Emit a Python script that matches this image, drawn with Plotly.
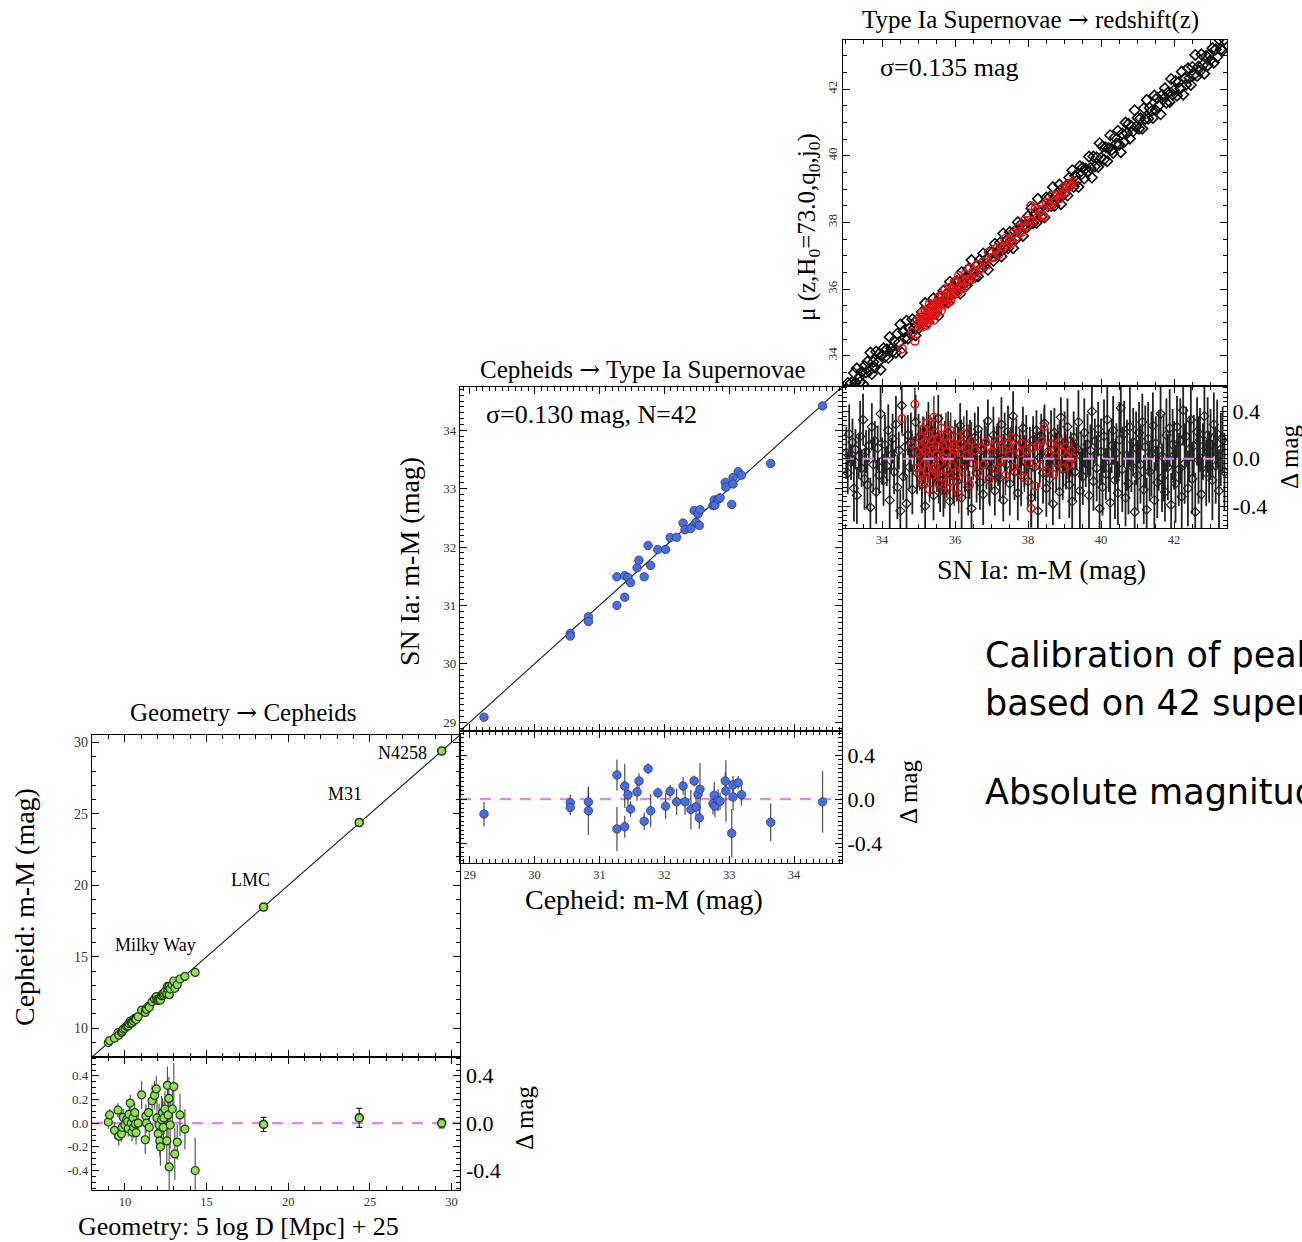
import plotly.graph_objects as go

W, H = 1302, 1242
SERIF = "Liberation Serif"
SANS = "DejaVu Sans"
ARROW = '<span style="font-family:\'DejaVu Serif\'">→</span>'


def px(x):
    return x / W


def py(y):
    return 1 - y / H


# ---------------- Geometry -> Cepheids ----------------
mw_geo = [8.98, 9.06, 9.36, 9.57, 9.62, 9.79, 9.83, 9.89, 10.00, 10.10,
          10.17, 10.20, 10.25, 10.32, 10.38, 10.43, 10.49, 10.53, 10.60, 10.64,
          10.68, 10.81, 11.02, 11.24, 11.28, 11.32, 11.45, 11.49, 11.66, 11.81,
          11.92, 11.96, 12.03, 12.09, 12.13, 12.17, 12.24, 12.30, 12.35, 12.39,
          12.45, 12.56, 12.60, 12.64, 12.69, 12.71, 12.77, 12.90, 12.99, 13.05,
          13.20, 13.37, 13.67, 14.30]
mw_dmag = [0.01, 0.07, -0.06, 0.11, -0.11, -0.09, -0.035, 0.05, -0.015, 0.03,
           0.015, -0.045, 0.075, 0.17, 0.00, -0.075, 0.045, -0.035, 0.09, -0.006,
           -0.08, 0.00, 0.24, -0.14, 0.06, 0.00, 0.09, -0.035, 0.19, 0.235,
           0.29, 0.045, -0.09, -0.015, -0.15, -0.20, 0.03, 0.09, -0.035, 0.045,
           0.12, -0.15, 0.32, 0.07, 0.21, -0.37, -0.015, 0.12, 0.31, -0.26,
           -0.16, 0.07, -0.05, -0.40]
mw_err = [0.06, 0.05, 0.07, 0.06, 0.08, 0.07, 0.06, 0.07, 0.08, 0.06,
          0.09, 0.07, 0.08, 0.07, 0.06, 0.08, 0.07, 0.09, 0.08, 0.06,
          0.10, 0.09, 0.12, 0.12, 0.10, 0.08, 0.11, 0.10, 0.13, 0.12,
          0.11, 0.15, 0.14, 0.18, 0.13, 0.16, 0.20, 0.12, 0.17, 0.14,
          0.15, 0.20, 0.16, 0.22, 0.18, 0.25, 0.20, 0.17, 0.20, 0.22,
          0.15, 0.18, 0.17, 0.28]

host_names = ["LMC", "M31", "N4258"]
host_geo = [18.49, 24.35, 29.40]
host_dmag = [-0.01, 0.045, 0.0]
host_err = [0.06, 0.08, 0.04]

# ---------------- Cepheids -> SN Ia ----------------
ceph_mu = [29.22, 30.55, 30.55, 30.83, 30.83, 31.27, 31.27, 31.39, 31.39, 31.44,
           31.48, 31.58, 31.61, 31.69, 31.75, 31.79, 31.90, 32.02, 32.09, 32.19,
           32.29, 32.32, 32.41, 32.46, 32.49, 32.52, 32.55, 32.54, 32.75, 32.77,
           32.78, 32.83, 32.86, 32.94, 32.95, 33.04, 33.06, 33.06, 33.14, 33.19,
           33.64, 34.44]
sn_dmag = [-0.135, -0.03, -0.075, -0.025, -0.105, 0.22, -0.27, 0.12, -0.25, 0.04,
           -0.09, 0.066, 0.165, -0.20, 0.277, -0.105, 0.057, -0.063, 0.072, -0.024,
           0.12, -0.024, -0.093, 0.166, -0.07, 0.045, 0.09, -0.17, -0.04, 0.036,
           -0.063, -0.01, -0.018, 0.166, 0.075, -0.31, 0.13, 0.02, 0.15, 0.04,
           -0.21, -0.024]
sn_err = [0.11, 0.07, 0.07, 0.13, 0.22, 0.14, 0.20, 0.20, 0.10, 0.10,
          0.07, 0.08, 0.07, 0.08, 0.05, 0.15, 0.05, 0.12, 0.06, 0.12,
          0.08, 0.12, 0.18, 0.05, 0.10, 0.08, 0.24, 0.10, 0.10, 0.12,
          0.10, 0.10, 0.08, 0.08, 0.28, 0.22, 0.08, 0.12, 0.06, 0.10,
          0.17, 0.28]

# ---------------- SN Ia -> redshift (Hubble flow, black) ----------------
hf_mu = [
    33.02, 33.06, 33.10, 33.15, 33.19, 33.23, 33.27, 33.31, 33.36, 33.40, 33.44, 33.48,
    33.52, 33.56, 33.60, 33.64, 33.68, 33.72, 33.76, 33.80, 33.84, 33.88, 33.92, 33.96,
    34.00, 34.04, 34.08, 34.13, 34.17, 34.21, 34.25, 34.29, 34.33, 34.38, 34.42, 34.46,
    34.50, 34.54, 34.58, 34.63, 34.67, 34.71, 34.75, 34.79, 34.83, 34.88, 34.92, 34.96,
    35.00, 35.05, 35.09, 35.14, 35.18, 35.23, 35.27, 35.32, 35.36, 35.41, 35.45,
    35.50, 35.54, 35.59, 35.63, 35.68, 35.72, 35.77, 35.81, 35.86, 35.90, 35.95,
    36.00, 36.05, 36.09, 36.14, 36.18, 36.23, 36.27, 36.32, 36.36, 36.41, 36.45,
    36.50, 36.54, 36.59, 36.63, 36.68, 36.72, 36.77, 36.81, 36.86, 36.90, 36.95,
    37.00, 37.05, 37.09, 37.14, 37.18, 37.23, 37.27, 37.32, 37.36, 37.41, 37.45,
    37.50, 37.54, 37.59, 37.63, 37.68, 37.72, 37.77, 37.81, 37.86, 37.90, 37.95,
    38.00, 38.05, 38.09, 38.14, 38.18, 38.23, 38.27, 38.32, 38.36, 38.41, 38.45,
    38.50, 38.54, 38.59, 38.63, 38.68, 38.72, 38.77, 38.81, 38.86, 38.90, 38.95,
    39.00, 39.04, 39.08, 39.13, 39.17, 39.21, 39.25, 39.29, 39.33, 39.38, 39.42, 39.46,
    39.50, 39.54, 39.58, 39.63, 39.67, 39.71, 39.75, 39.79, 39.83, 39.88, 39.92, 39.96,
    40.00, 40.04, 40.08, 40.13, 40.17, 40.21, 40.25, 40.29, 40.33, 40.38, 40.42, 40.46,
    40.50, 40.54, 40.58, 40.63, 40.67, 40.71, 40.75, 40.79, 40.83, 40.88, 40.92, 40.96,
    41.00, 41.04, 41.08, 41.13, 41.17, 41.21, 41.25, 41.29, 41.33, 41.38, 41.42, 41.46,
    41.50, 41.54, 41.58, 41.63, 41.67, 41.71, 41.75, 41.79, 41.83, 41.88, 41.92, 41.96,
    42.00, 42.04, 42.08, 42.13, 42.17, 42.21, 42.25, 42.29, 42.33, 42.38, 42.42, 42.46,
    42.50, 42.54, 42.58, 42.63, 42.67, 42.71, 42.75, 42.79, 42.83, 42.88, 42.92, 42.96,
    43.00, 43.05, 43.09, 43.14, 43.18, 43.23, 43.28, 43.33, 43.38]
hf_dmag = [
    0.05, -0.12, 0.21, -0.03, 0.14, -0.25, 0.08, -0.31, 0.02, 0.19, -0.08, 0.33,
    -0.17, 0.06, -0.22, 0.11, -0.41, 0.27, -0.05, 0.15, -0.28, 0.09, -0.14, 0.38,
    -0.02, -0.18, 0.12, -0.06, 0.24, -0.35, 0.03, 0.17, -0.11, 0.29, -0.24, 0.07,
    -0.44, 0.45, -0.15, 0.10, -0.38, 0.20, -0.07, 0.14, -0.26, 0.05, 0.31, -0.12,
    0.18, 0.08, -0.22, 0.15, -0.40, 0.03, 0.26, -0.13, 0.10, -0.31, 0.19,
    -0.05, 0.34, -0.18, 0.06, -0.27, 0.13, -0.09, 0.22, -0.36, 0.04, -0.15,
    0.12, -0.19, 0.04, 0.28, -0.33, 0.09, -0.06, 0.21, -0.24, 0.15, -0.42,
    0.02, 0.18, -0.12, 0.25, -0.20, 0.07, -0.30, 0.13, -0.04, 0.32, -0.16,
    -0.08, 0.20, -0.27, 0.11, 0.03, -0.16, 0.29, -0.35, 0.14, -0.05, 0.23,
    -0.21, 0.08, 0.36, -0.11, 0.17, -0.29, 0.05, -0.14, 0.26, -0.02, 0.12,
    -0.19, 0.09, -0.33, 0.16, -0.07, 0.24, -0.44, 0.01, 0.19, -0.12, 0.30,
    -0.25, 0.06, -0.17, 0.13, -0.38, 0.22, -0.03, 0.10, -0.28, 0.35, -0.09,
    0.14, -0.06, 0.27, -0.22, 0.04, -0.36, 0.18, -0.11, 0.09, 0.31, -0.27, 0.02,
    -0.15, 0.22, -0.04, 0.12, -0.31, 0.07, 0.40, -0.19, 0.15, -0.08, 0.25, -0.42,
    0.06, -0.24, 0.19, -0.13, 0.33, -0.02, -0.37, 0.11, 0.24, -0.18, 0.05, -0.29,
    0.16, 0.43, -0.09, 0.21, -0.33, 0.03, -0.21, 0.27, -0.06, 0.14, -0.45, 0.09,
    -0.14, 0.22, -0.05, 0.31, -0.26, 0.10, -0.43, 0.17, -0.11, 0.04, 0.28, -0.35,
    0.13, -0.20, 0.07, 0.38, -0.16, 0.01, -0.28, 0.20, -0.07, 0.26, -0.39, 0.12,
    0.03, -0.21, 0.27, -0.09, 0.15, -0.32, 0.41, -0.04, 0.19, -0.25, 0.08, 0.33,
    -0.17, 0.11, -0.45, 0.23, -0.01, 0.16, -0.30, 0.06, 0.36, -0.12, 0.20, -0.07,
    0.12, -0.18, 0.29, -0.06, 0.21, -0.27, 0.08, 0.16, -0.11]
hf_err = [
    0.22, 0.18, 0.25, 0.15, 0.20, 0.28, 0.17, 0.24, 0.19, 0.30, 0.16, 0.22,
    0.26, 0.18, 0.21, 0.14, 0.25, 0.20, 0.23, 0.17, 0.27, 0.19, 0.15, 0.24,
    0.20, 0.22, 0.25, 0.17, 0.22, 0.28, 0.15, 0.21, 0.19, 0.24, 0.27, 0.16,
    0.18, 0.23, 0.20, 0.26, 0.22, 0.17, 0.19, 0.25, 0.21, 0.14, 0.23, 0.18,
    0.20, 0.18, 0.24, 0.20, 0.26, 0.16, 0.22, 0.19, 0.25, 0.21, 0.17,
    0.23, 0.20, 0.27, 0.15, 0.22, 0.19, 0.24, 0.18, 0.26, 0.20, 0.23,
    0.21, 0.17, 0.23, 0.19, 0.26, 0.15, 0.22, 0.20, 0.24, 0.18, 0.27,
    0.16, 0.21, 0.25, 0.19, 0.23, 0.17, 0.26, 0.20, 0.22, 0.18, 0.24,
    0.19, 0.24, 0.21, 0.17, 0.26, 0.20, 0.23, 0.18, 0.25, 0.16, 0.22,
    0.27, 0.19, 0.21, 0.24, 0.17, 0.23, 0.20, 0.26, 0.18, 0.22, 0.25,
    0.22, 0.18, 0.25, 0.20, 0.27, 0.17, 0.23, 0.21, 0.19, 0.26, 0.16,
    0.24, 0.20, 0.22, 0.28, 0.18, 0.21, 0.25, 0.19, 0.23, 0.17, 0.26,
    0.26, 0.20, 0.24, 0.28, 0.19, 0.30, 0.22, 0.25, 0.18, 0.27, 0.33, 0.21,
    0.24, 0.29, 0.20, 0.26, 0.31, 0.22, 0.27, 0.25, 0.19, 0.28, 0.23, 0.30,
    0.28, 0.24, 0.31, 0.22, 0.35, 0.26, 0.30, 0.23, 0.29, 0.33, 0.25, 0.27,
    0.32, 0.21, 0.36, 0.28, 0.24, 0.30, 0.26, 0.34, 0.22, 0.29, 0.27, 0.31,
    0.30, 0.26, 0.33, 0.24, 0.29, 0.35, 0.27, 0.31, 0.25, 0.36, 0.28, 0.32,
    0.23, 0.30, 0.34, 0.26, 0.29, 0.37, 0.25, 0.31, 0.28, 0.33, 0.27, 0.30,
    0.29, 0.33, 0.26, 0.31, 0.36, 0.27, 0.30, 0.34, 0.25, 0.32, 0.28, 0.35,
    0.30, 0.26, 0.33, 0.29, 0.37, 0.27, 0.31, 0.24, 0.34, 0.28, 0.32, 0.30,
    0.30, 0.34, 0.27, 0.32, 0.29, 0.35, 0.31, 0.28, 0.33]

# ---------------- SN Ia -> redshift (low-z sample, red) ----------------
lz_mu = [
    34.55, 34.82, 34.90, 34.96,
    35.01, 35.03, 35.05, 35.07, 35.09, 35.10, 35.12, 35.14, 35.16, 35.18,
    35.20, 35.22, 35.24, 35.26, 35.28, 35.30, 35.32, 35.34, 35.36, 35.38,
    35.40, 35.42, 35.44, 35.46, 35.48,
    35.50, 35.52, 35.55, 35.57, 35.60, 35.62, 35.65, 35.67, 35.70, 35.72,
    35.75, 35.77, 35.80, 35.83, 35.85, 35.88, 35.90, 35.93, 35.96, 35.98,
    36.01, 36.04, 36.07, 36.10, 36.14, 36.17, 36.20, 36.24, 36.28, 36.32,
    36.36, 36.40, 36.45, 36.50, 36.55,
    36.62, 36.70, 36.78, 36.85, 36.93, 37.00, 37.07, 37.13, 37.20, 37.26,
    37.32, 37.38, 37.44, 37.50, 37.55, 37.60, 37.66, 37.72, 37.78, 37.84,
    37.90, 37.96, 38.02, 38.08, 38.13, 38.20, 38.26, 38.32, 38.38, 38.44,
    38.50, 38.56, 38.62, 38.68, 38.74, 38.80, 38.86, 38.92, 38.97, 39.02,
    39.07, 39.12, 39.17, 39.22]
lz_dmag = [
    0.34, 0.12, 0.46, -0.08,
    0.05, -0.12, 0.18, 0.02, -0.20, 0.10, 0.25, -0.05, 0.14, -0.18,
    0.07, 0.30, -0.09, 0.03, 0.20, -0.26, 0.11, -0.02, 0.16, -0.14,
    0.08, 0.35, -0.07, 0.22, -0.11,
    0.04, 0.17, -0.21, 0.09, -0.03, 0.26, -0.15, 0.12, 0.01, -0.28,
    0.19, 0.06, -0.10, 0.14, -0.19, 0.24, 0.02, -0.06, 0.11, -0.24,
    0.08, -0.13, 0.18, -0.30, 0.05, 0.13, -0.08, 0.21, -0.17, 0.03,
    0.10, -0.22, 0.15, -0.04, 0.07,
    -0.12, 0.09, -0.05, 0.14, -0.18, 0.06, 0.11, -0.09, 0.16, -0.02,
    0.08, -0.14, 0.12, 0.03, 0.18, -0.07, 0.10, -0.11, 0.05, 0.13,
    -0.16, 0.07, -0.04, -0.42, 0.09, -0.23, 0.11, -0.06, 0.15, 0.27,
    -0.10, 0.04, 0.12, -0.13, 0.08, -0.03, 0.14, 0.06, -0.08, 0.10,
    0.02, -0.05, 0.07, 0.01]
lz_err = [
    0.15, 0.12, 0.14, 0.18,
    0.12, 0.15, 0.10, 0.18, 0.13, 0.20, 0.11, 0.16, 0.14, 0.12,
    0.19, 0.10, 0.15, 0.13, 0.17, 0.11, 0.21, 0.14, 0.12, 0.16,
    0.10, 0.18, 0.13, 0.15, 0.12,
    0.14, 0.11, 0.17, 0.13, 0.19, 0.12, 0.15, 0.10, 0.16, 0.14,
    0.20, 0.12, 0.13, 0.18, 0.11, 0.15, 0.17, 0.12, 0.14, 0.16,
    0.13, 0.18, 0.12, 0.16, 0.14, 0.20, 0.11, 0.15, 0.17, 0.13,
    0.19, 0.12, 0.16, 0.14, 0.18,
    0.15, 0.12, 0.18, 0.14, 0.20, 0.13, 0.16, 0.11, 0.19, 0.15,
    0.13, 0.17, 0.12, 0.21, 0.14, 0.16, 0.18, 0.13, 0.15, 0.19,
    0.12, 0.17, 0.14, 0.16, 0.20, 0.13, 0.15, 0.18, 0.12, 0.16,
    0.14, 0.19, 0.13, 0.17, 0.15, 0.12, 0.18, 0.14, 0.16, 0.13,
    0.19, 0.15, 0.12, 0.17]

# axis ranges of the three rungs
GEO_RANGE = [7.98, 30.52]
CEPH_RANGE = [28.85, 34.74]
SNX_RANGE = [32.93, 43.45]
SNY_RANGE = [33.09, 43.48]
RES_A = [-0.565, 0.56]
RES_B = [-0.58, 0.62]
RES_C = [-0.585, 0.615]
BIG_TICKS = [0.4, 0.0, -0.4]

GREEN = "#92e05a"
GREEN_EDGE = "#1d3a0c"
BLUE = "#4b6ed6"
BLUE_EDGE = "#25398a"
RED = "#e01414"
VIOLET = "#d98ae8"
ERRC = "rgba(60,60,60,0.85)"

fig = go.Figure()


def add_zero_line(xr, xa, ya):
    fig.add_trace(go.Scatter(x=xr, y=[0, 0], mode="lines", xaxis=xa, yaxis=ya,
                             line=dict(color=VIOLET, width=2.2, dash="11px,9px"),
                             hoverinfo="skip", showlegend=False))


# ---- rung 1: geometry -> Cepheids ----
fig.add_trace(go.Scatter(x=GEO_RANGE, y=GEO_RANGE, mode="lines", xaxis="x", yaxis="y",
                         line=dict(color="#222", width=1.2), showlegend=False))
fig.add_trace(go.Scatter(x=mw_geo, y=[g + d for g, d in zip(mw_geo, mw_dmag)],
                         mode="markers", xaxis="x", yaxis="y",
                         marker=dict(size=8, color=GREEN, line=dict(color=GREEN_EDGE, width=1.2)),
                         showlegend=False))
fig.add_trace(go.Scatter(x=host_geo, y=[g + d for g, d in zip(host_geo, host_dmag)],
                         mode="markers", xaxis="x", yaxis="y",
                         marker=dict(size=8, color=GREEN, line=dict(color=GREEN_EDGE, width=1.6)),
                         showlegend=False))
add_zero_line(GEO_RANGE, "x2", "y2")
fig.add_trace(go.Scatter(x=mw_geo, y=mw_dmag, mode="markers", xaxis="x2", yaxis="y2",
                         error_y=dict(type="data", array=mw_err, color=ERRC, thickness=1.2, width=0),
                         marker=dict(size=8, color=GREEN, line=dict(color=GREEN_EDGE, width=1.2)),
                         showlegend=False))
fig.add_trace(go.Scatter(x=host_geo, y=host_dmag, mode="markers", xaxis="x2", yaxis="y2",
                         error_y=dict(type="data", array=host_err, color="#222", thickness=1.2, width=3),
                         marker=dict(size=8, color=GREEN, line=dict(color=GREEN_EDGE, width=1.6)),
                         showlegend=False))

# ---- rung 2: Cepheids -> SN Ia ----
fig.add_trace(go.Scatter(x=CEPH_RANGE, y=CEPH_RANGE, mode="lines", xaxis="x3", yaxis="y4",
                         line=dict(color="#222", width=1.2), showlegend=False))
fig.add_trace(go.Scatter(x=ceph_mu, y=[c + d for c, d in zip(ceph_mu, sn_dmag)],
                         mode="markers", xaxis="x3", yaxis="y4",
                         marker=dict(size=8.5, color=BLUE, line=dict(color=BLUE_EDGE, width=0.8)),
                         showlegend=False))
add_zero_line(CEPH_RANGE, "x4", "y5")
fig.add_trace(go.Scatter(x=ceph_mu, y=sn_dmag, mode="markers", xaxis="x4", yaxis="y5",
                         error_y=dict(type="data", array=sn_err, color=ERRC, thickness=1.3, width=0),
                         marker=dict(size=8.5, color=BLUE, line=dict(color=BLUE_EDGE, width=0.8)),
                         showlegend=False))

# ---- rung 3: SN Ia -> redshift ----
fig.add_trace(go.Scatter(x=hf_mu, y=[m - d for m, d in zip(hf_mu, hf_dmag)],
                         mode="markers", xaxis="x5", yaxis="y6",
                         marker=dict(symbol="diamond-open", size=8, color="#0a0a0a", line=dict(width=1.6)),
                         showlegend=False))
fig.add_trace(go.Scatter(x=lz_mu, y=[m - d for m, d in zip(lz_mu, lz_dmag)],
                         mode="markers", xaxis="x5", yaxis="y6",
                         marker=dict(symbol="circle-open", size=8, color=RED, line=dict(width=1.6)),
                         showlegend=False))
fig.add_trace(go.Scatter(x=hf_mu, y=hf_dmag, mode="markers", xaxis="x6", yaxis="y7",
                         error_y=dict(type="data", array=hf_err, color="rgba(10,10,10,0.9)",
                                      thickness=1.8, width=0),
                         marker=dict(symbol="diamond-open", size=7, color="#222", line=dict(width=1.2)),
                         showlegend=False))
fig.add_trace(go.Scatter(x=lz_mu, y=lz_dmag, mode="markers", xaxis="x6", yaxis="y7",
                         error_y=dict(type="data", array=lz_err, color="rgba(60,10,10,0.9)",
                                      thickness=1.4, width=0),
                         marker=dict(symbol="circle-open", size=7.5, color=RED, line=dict(width=1.5)),
                         showlegend=False))
add_zero_line(SNX_RANGE, "x6", "y7")


def frame(domain, rng, dtick, minor, labels=True, size=12, **kw):
    d = dict(domain=domain, range=rng, showline=True, linecolor="black", linewidth=1.3,
             mirror="allticks", ticks="inside", ticklen=7, tickwidth=1, tickcolor="black",
             showgrid=False, zeroline=False, dtick=dtick, tick0=0,
             showticklabels=labels,
             tickfont=dict(family=SERIF, size=size, color="#333"),
             minor=dict(ticks="inside", ticklen=3.5, tickwidth=1, tickcolor="black",
                        dtick=minor, tick0=0, showgrid=False))
    d.update(kw)
    return d


def fmt(v):
    return f"{v:.1f}".replace("-0.0", "0.0")


def resid_ticks(vals):
    return dict(tickvals=vals, ticktext=[fmt(v) for v in vals])


xa_A = [px(92), px(460)]
xa_B = [px(460), px(842)]
xa_C = [px(843), px(1227)]

big = dict(family=SERIF, size=22, color="black")

fig.update_layout(
    width=W, height=H, margin=dict(l=0, r=0, t=0, b=0),
    paper_bgcolor="white", plot_bgcolor="rgba(0,0,0,0)", showlegend=False,
    # geometry -> Cepheids
    xaxis=frame(xa_A, GEO_RANGE, 5, 1, labels=False, anchor="y"),
    yaxis=frame([py(1057), py(735)], GEO_RANGE, 5, 1, anchor="x", size=14),
    xaxis2=frame(xa_A, GEO_RANGE, 5, 1, anchor="y2", size=12.5),
    yaxis2=frame([py(1190), py(1057)], RES_A, 0.2, 0.05, anchor="x2", size=13,
                 **resid_ticks([-0.4, -0.2, 0.0, 0.2, 0.4])),
    # Cepheids -> SN Ia
    xaxis3=frame(xa_B, CEPH_RANGE, 1, 0.1, labels=False, anchor="y4"),
    yaxis4=frame([py(731), py(387)], CEPH_RANGE, 1, 0.1, anchor="x3", size=13),
    xaxis4=frame(xa_B, CEPH_RANGE, 1, 0.1, anchor="y5", size=12.5),
    yaxis5=frame([py(863), py(731)], RES_B, 0.4, 0.04, anchor="x4", side="right",
                 tickfont=big, **resid_ticks(BIG_TICKS)),
    # SN Ia -> redshift
    xaxis5=frame(xa_C, SNX_RANGE, 2, 0.5, labels=False, anchor="y6"),
    yaxis6=frame([py(386), py(40)], SNY_RANGE, 2, 0.5, anchor="x5", tickangle=-90, size=13),
    xaxis6=frame(xa_C, SNX_RANGE, 2, 0.5, anchor="y7", size=12.5),
    yaxis7=frame([py(528), py(386)], RES_C, 0.4, 0.04, anchor="x6", side="right",
                 tickfont=big, **resid_ticks(BIG_TICKS)),
)

# large right-hand residual labels of the geometry rung
for v in BIG_TICKS:
    fig.add_annotation(text=fmt(v), x=px(464), xref="paper", y=v, yref="y2",
                       xanchor="left", yanchor="middle", showarrow=False, font=big)


def note(text, x, y, size, angle=0, xanchor="center", family=SERIF, yanchor="middle"):
    fig.add_annotation(text=text, x=px(x), y=py(y), xref="paper", yref="paper",
                       showarrow=False, textangle=angle, xanchor=xanchor, yanchor=yanchor,
                       font=dict(family=family, size=size, color="black"))


# panel titles
note(f"Type Ia Supernovae {ARROW} redshift(z)", 1030, 20, 25)
note(f"Cepheids {ARROW} Type Ia Supernovae", 643, 369, 25)
note(f"Geometry {ARROW} Cepheids", 243, 712, 25)
note("σ=0.135 mag", 878, 67, 26, xanchor="left")
note("σ=0.130 mag, N=42", 484, 415, 26, xanchor="left")

# galaxy labels
note("Milky Way", 155, 945, 18)
for name, x, y in zip(host_names, [250, 345, 402], [880, 794, 753]):
    note(name, x, y, 18)

# axis titles
note("Cepheid: m-M (mag)", 24, 907, 28, angle=-90)
note("Geometry: 5 log D [Mpc] + 25", 238, 1226, 26)
note("SN Ia: m-M (mag)", 409, 562, 28, angle=-90)
note("Cepheid: m-M (mag)", 644, 899, 28)
note("μ (z,H<sub>0</sub>=73.0,q<sub>0</sub>,j<sub>0</sub>)", 808, 227, 25, angle=-90)
note("SN Ia: m-M (mag)", 1041, 569, 28)
note("Δ mag", 1289, 457, 25, angle=-90)
note("Δ mag", 909, 792, 25, angle=-90)
note("Δ mag", 524, 1118, 25, angle=-90)

# side text
note("Calibration of peak luminosity", 983, 655, 35, xanchor="left", family=SANS)
note("based on 42 supernovae", 983, 703, 35, xanchor="left", family=SANS)
note("Absolute magnitude", 983, 792, 35, xanchor="left", family=SANS)

fig.write_html("out.html")
